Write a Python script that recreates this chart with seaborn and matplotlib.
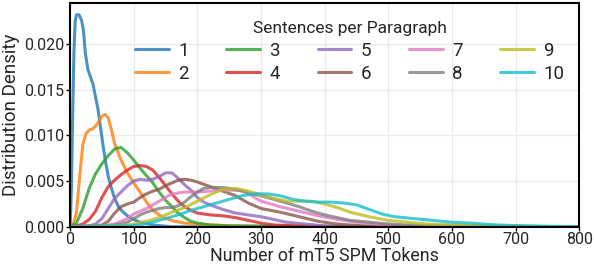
import pandas as pd
import matplotlib.pyplot as plt
import seaborn as sns

# density curves, one (tokens, density) pair per paragraph length
tok_1 = [0, 2, 4, 6, 8, 10, 14, 18, 21, 24, 28, 32, 36, 40, 44, 48, 52, 56, 60, 65, 70, 76, 82, 90, 100, 110, 130, 160, 800]
dens_1 = [0, 0.004, 0.012, 0.019, 0.0225, 0.0232, 0.0232, 0.0226, 0.0215, 0.0190, 0.0172, 0.0164, 0.0156, 0.0142,
          0.0128, 0.0108, 0.0088, 0.0070, 0.0055, 0.0042, 0.0031, 0.0022, 0.0017, 0.0012, 0.0008, 0.0005, 0.0002, 0, 0]

tok_2 = [0, 5, 10, 15, 20, 25, 30, 35, 40, 45, 50, 55, 60, 65, 70, 75, 80, 90, 100, 110, 120, 130, 140, 150, 165,
         180, 200, 220, 260, 300, 800]
dens_2 = [0, 0.0003, 0.0015, 0.0055, 0.0090, 0.0102, 0.0106, 0.0107, 0.0110, 0.0115, 0.0121, 0.0123, 0.0119, 0.0106,
          0.0091, 0.0082, 0.0073, 0.0059, 0.0048, 0.0038, 0.0027, 0.0018, 0.0013, 0.0009, 0.0006, 0.0004, 0.0003,
          0.0002, 0.0001, 0, 0]

tok_3 = [0, 10, 20, 30, 40, 50, 60, 70, 80, 90, 100, 110, 120, 130, 140, 150, 160, 170, 180, 190, 200, 220, 250, 800]
dens_3 = [0, 0.0004, 0.0020, 0.0042, 0.0058, 0.0069, 0.0078, 0.0085, 0.0087, 0.0081, 0.0073, 0.0064, 0.0056, 0.0048,
          0.0038, 0.0029, 0.0022, 0.0015, 0.0010, 0.0006, 0.0004, 0.0002, 0.0001, 0]

tok_4 = [0, 10, 20, 30, 40, 50, 60, 70, 80, 90, 100, 110, 120, 130, 140, 150, 160, 170, 180, 190, 200, 220, 240,
         260, 280, 300, 320, 360, 400, 800]
dens_4 = [0, 0.0001, 0.0003, 0.0008, 0.0017, 0.0032, 0.0044, 0.0051, 0.0057, 0.0062, 0.0066, 0.0067, 0.0066, 0.0062,
          0.0054, 0.0045, 0.0036, 0.0028, 0.0022, 0.0018, 0.0015, 0.0013, 0.0012, 0.0010, 0.0007, 0.0004, 0.0002,
          0.0001, 0, 0]

tok_5 = [0, 30, 40, 50, 60, 70, 80, 90, 100, 110, 120, 130, 140, 150, 160, 170, 180, 190, 200, 210, 220, 240, 260,
         280, 300, 320, 340, 370, 400, 450, 800]
dens_5 = [0, 0.0001, 0.0003, 0.0009, 0.0020, 0.0031, 0.0038, 0.0045, 0.0050, 0.0052, 0.0051, 0.0052, 0.0055, 0.0059,
          0.0059, 0.0053, 0.0046, 0.0040, 0.0032, 0.0027, 0.0024, 0.0019, 0.0015, 0.0013, 0.0011, 0.0008, 0.0005,
          0.0003, 0.0001, 0, 0]

tok_6 = [0, 40, 50, 60, 70, 80, 90, 100, 110, 120, 130, 140, 150, 160, 170, 180, 190, 200, 220, 240, 260, 280, 300,
         330, 360, 390, 420, 460, 500, 800]
dens_6 = [0, 0.0001, 0.0002, 0.0006, 0.0015, 0.0022, 0.0025, 0.0027, 0.0032, 0.0036, 0.0039, 0.0041, 0.0045, 0.0048,
          0.0051, 0.0052, 0.0051, 0.0049, 0.0044, 0.0039, 0.0034, 0.0026, 0.0020, 0.0016, 0.0011, 0.0006, 0.0003,
          0.0001, 0, 0]

tok_7 = [0, 50, 70, 80, 90, 100, 110, 120, 130, 140, 150, 160, 180, 200, 220, 240, 260, 275, 290, 300, 330, 360,
         390, 420, 450, 480, 520, 800]
dens_7 = [0, 0.0001, 0.0003, 0.0006, 0.0009, 0.0014, 0.0017, 0.0020, 0.0024, 0.0028, 0.0032, 0.0036, 0.0038, 0.0038,
          0.0039, 0.0040, 0.0040, 0.0039, 0.0032, 0.0028, 0.0022, 0.0017, 0.0012, 0.0008, 0.0005, 0.0003, 0.0001, 0]

tok_8 = [0, 60, 80, 90, 100, 110, 120, 130, 140, 150, 160, 170, 180, 190, 200, 210, 220, 240, 260, 280, 300, 320,
         340, 360, 380, 400, 420, 440, 470, 500, 530, 570, 800]
dens_8 = [0, 0.0001, 0.0003, 0.0005, 0.0009, 0.0013, 0.0016, 0.0018, 0.0020, 0.0021, 0.0021, 0.0023, 0.0027, 0.0033,
          0.0038, 0.0042, 0.0043, 0.0043, 0.0041, 0.0037, 0.0034, 0.0030, 0.0026, 0.0022, 0.0017, 0.0013, 0.0010,
          0.0007, 0.0005, 0.0003, 0.0002, 0.0001, 0]

tok_9 = [0, 80, 100, 120, 140, 160, 180, 200, 220, 240, 260, 280, 300, 320, 340, 360, 380, 400, 420, 440, 470, 500,
         530, 560, 600, 650, 800]
dens_9 = [0, 0.0001, 0.0003, 0.0006, 0.0010, 0.0016, 0.0021, 0.0028, 0.0035, 0.0041, 0.0042, 0.0039, 0.0035, 0.0031,
          0.0028, 0.0028, 0.0028, 0.0025, 0.0021, 0.0016, 0.0011, 0.0007, 0.0005, 0.0003, 0.0002, 0.0001, 0]

tok_10 = [0, 90, 110, 130, 150, 170, 190, 210, 230, 250, 270, 290, 310, 330, 350, 370, 390, 410, 430, 450, 470, 490,
          510, 540, 570, 600, 630, 670, 720, 800]
dens_10 = [0, 0.0001, 0.0002, 0.0005, 0.0009, 0.0013, 0.0018, 0.0022, 0.0026, 0.0030, 0.0034, 0.0036, 0.0036, 0.0034,
           0.0030, 0.0028, 0.0027, 0.0027, 0.0026, 0.0024, 0.0019, 0.0014, 0.0011, 0.0009, 0.0007, 0.0005, 0.0004,
           0.0002, 0.0001, 0]

sentences = ["1", "2", "3", "4", "5", "6", "7", "8", "9", "10"]
all_tok = [tok_1, tok_2, tok_3, tok_4, tok_5, tok_6, tok_7, tok_8, tok_9, tok_10]
all_dens = [dens_1, dens_2, dens_3, dens_4, dens_5, dens_6, dens_7, dens_8, dens_9, dens_10]

frames = []
for name, t, d in zip(sentences, all_tok, all_dens):
    frames.append(pd.DataFrame({"tokens": t, "density": d, "sentences": name}))
df = pd.concat(frames, ignore_index=True)

sns.set_theme(style="whitegrid")
plt.rcParams["font.family"] = ["Roboto", "DejaVu Sans"]

fig, ax = plt.subplots(figsize=(5.94, 2.64), dpi=100)
fig.subplots_adjust(left=0.118, right=0.975, top=0.989, bottom=0.141)

sns.lineplot(data=df, x="tokens", y="density", hue="sentences", hue_order=sentences,
             palette="tab10", linewidth=2.2, alpha=0.8, sort=False, ax=ax)

ax.set_xlim(0, 800)
ax.set_ylim(0, 0.0245)
ax.set_xticks(range(0, 801, 100))
ax.set_yticks([0, 0.005, 0.010, 0.015, 0.020])
ax.set_yticklabels(["0.000", "0.005", "0.010", "0.015", "0.020"])
ax.tick_params(labelsize=11.5, length=3, width=1, pad=1, color="black", bottom=True, left=True)
ax.set_xlabel("Number of mT5 SPM Tokens", fontsize=12.8, labelpad=0)
ax.set_ylabel("Distribution Density", fontsize=13.5, labelpad=3)
ax.grid(color="#ebebeb", linewidth=1)
for s in ax.spines.values():
    s.set_color("black")
    s.set_linewidth(1.5)

handles, labels = ax.get_legend_handles_labels()
leg = ax.legend(handles, labels, title="Sentences per Paragraph", ncol=5, frameon=False,
                loc="upper right", bbox_to_anchor=(1.0, 0.985), fontsize=13.5, title_fontsize=12.5,
                handlelength=1.8, handletextpad=0.5, columnspacing=2.0,
                labelspacing=0.28, borderpad=0.3)

fig.savefig("out.png", dpi=100)
